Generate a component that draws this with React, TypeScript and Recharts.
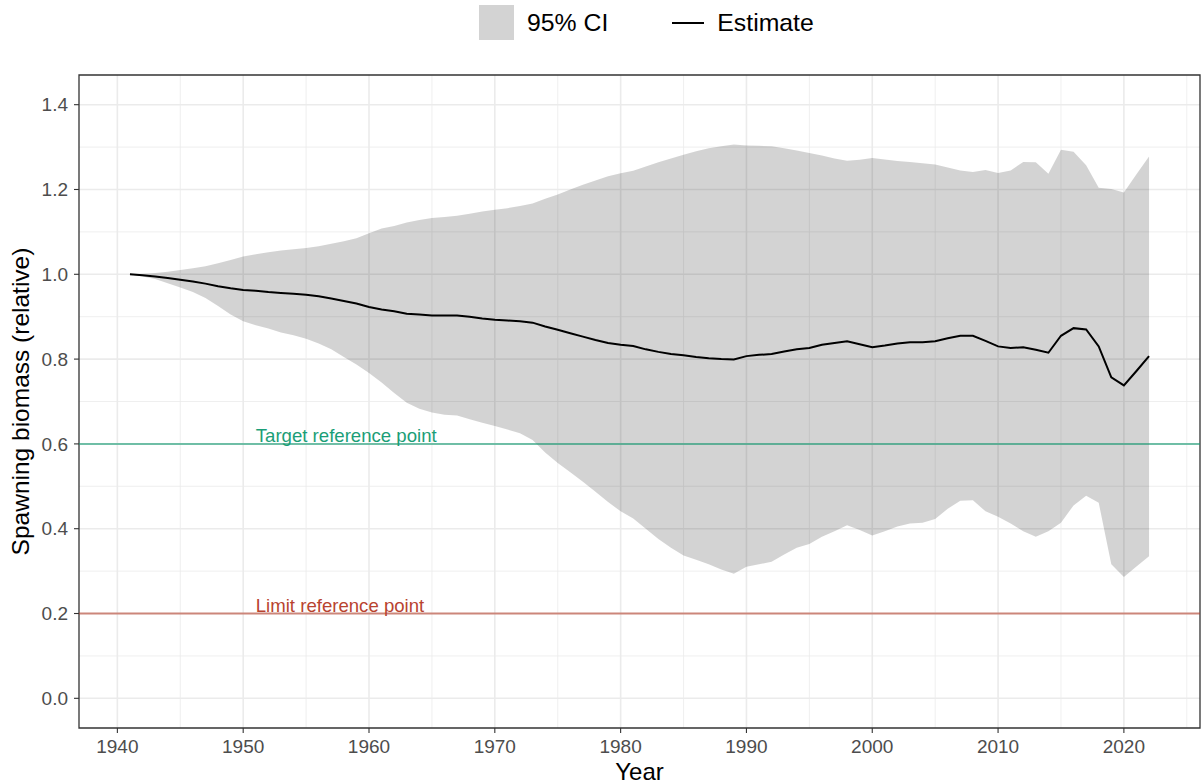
import {
  ComposedChart,
  Area,
  Line,
  XAxis,
  YAxis,
  CartesianGrid,
  ReferenceLine,
  ReferenceArea,
  ReferenceDot,
} from 'recharts'

const years = [
  1941, 1942, 1943, 1944, 1945, 1946, 1947, 1948, 1949, 1950,
  1951, 1952, 1953, 1954, 1955, 1956, 1957, 1958, 1959, 1960,
  1961, 1962, 1963, 1964, 1965, 1966, 1967, 1968, 1969, 1970,
  1971, 1972, 1973, 1974, 1975, 1976, 1977, 1978, 1979, 1980,
  1981, 1982, 1983, 1984, 1985, 1986, 1987, 1988, 1989, 1990,
  1991, 1992, 1993, 1994, 1995, 1996, 1997, 1998, 1999, 2000,
  2001, 2002, 2003, 2004, 2005, 2006, 2007, 2008, 2009, 2010,
  2011, 2012, 2013, 2014, 2015, 2016, 2017, 2018, 2019, 2020,
  2021, 2022,
]

const estimate = [
  1.0, 0.998, 0.995, 0.991, 0.987, 0.983, 0.978, 0.972, 0.967, 0.963,
  0.961, 0.958, 0.956, 0.954, 0.952, 0.948, 0.943, 0.937, 0.931, 0.923,
  0.917, 0.913, 0.907, 0.905, 0.903, 0.903, 0.903, 0.9, 0.896, 0.893,
  0.891, 0.889, 0.886, 0.877, 0.869, 0.861, 0.853, 0.845, 0.838, 0.834,
  0.831, 0.823, 0.817, 0.812, 0.809, 0.805, 0.802, 0.8, 0.799, 0.807,
  0.81, 0.812, 0.818, 0.823, 0.826, 0.834, 0.838, 0.842, 0.835, 0.828,
  0.832, 0.837, 0.84, 0.84, 0.842, 0.849, 0.855, 0.855, 0.843, 0.83,
  0.826, 0.828, 0.822, 0.815, 0.855, 0.873, 0.87, 0.83, 0.757, 0.738,
  0.772, 0.807,
]

const lower = [
  1.0, 0.995, 0.989, 0.979, 0.969, 0.958, 0.944, 0.925, 0.905, 0.889,
  0.88, 0.872, 0.863, 0.856, 0.848, 0.837, 0.823, 0.805, 0.787, 0.767,
  0.745, 0.72, 0.697, 0.683, 0.674, 0.669, 0.667, 0.658, 0.65, 0.642,
  0.634, 0.625, 0.609, 0.58, 0.555, 0.533, 0.511, 0.487, 0.463, 0.441,
  0.424, 0.4, 0.376, 0.355, 0.337, 0.327, 0.316, 0.304, 0.294, 0.31,
  0.316, 0.322, 0.339, 0.355, 0.364, 0.381, 0.394, 0.408, 0.397, 0.384,
  0.394, 0.405, 0.412, 0.414, 0.423, 0.447, 0.466, 0.467, 0.441, 0.428,
  0.412, 0.394, 0.381, 0.394, 0.414, 0.455, 0.478, 0.461, 0.316, 0.286,
  0.311, 0.335,
]

const upper = [
  1.0, 1.001, 1.003, 1.006, 1.01, 1.014, 1.019, 1.026, 1.034, 1.042,
  1.047, 1.052, 1.056, 1.059, 1.062, 1.066, 1.072, 1.078, 1.085, 1.097,
  1.108, 1.114, 1.122, 1.128, 1.133, 1.135, 1.138, 1.143, 1.148, 1.152,
  1.156, 1.161, 1.167, 1.178, 1.188, 1.2, 1.211, 1.221, 1.231, 1.238,
  1.244, 1.254, 1.264, 1.273, 1.282, 1.29, 1.297, 1.302, 1.306, 1.304,
  1.303, 1.302, 1.297, 1.292, 1.286, 1.28, 1.273, 1.268, 1.27, 1.274,
  1.271, 1.267, 1.265, 1.262, 1.259, 1.252, 1.245, 1.241, 1.246, 1.239,
  1.245, 1.265, 1.264, 1.237, 1.294, 1.289, 1.257, 1.204, 1.201, 1.193,
  1.236, 1.278,
]

const xTicks = [1940, 1950, 1960, 1970, 1980, 1990, 2000, 2010, 2020]
const xMinor = [1945, 1955, 1965, 1975, 1985, 1995, 2005, 2015, 2025]
const yTicks = [0, 0.2, 0.4, 0.6, 0.8, 1.0, 1.2, 1.4]
const yMinor = [0.1, 0.3, 0.5, 0.7, 0.9, 1.1, 1.3]

const xDomain = [1936.95, 2026.05]
const yDomain = [-0.07, 1.47]

const refPoints = [
  { name: 'Target reference point', value: 0.6, color: '#1b9e77' },
  { name: 'Limit reference point', value: 0.2, color: '#b8432f' },
]
const refLabelYear = 1951

const FONT = '"Liberation Sans", Arial, Helvetica, sans-serif'

const data = years.map((year, i) => ({
  year,
  est: estimate[i],
  ci: [lower[i], upper[i]],
}))

const refLabel = (text: string, color: string) => (props: any) => {
  const vb = props.viewBox || {}
  const x = vb.x + (vb.width || 0) / 2
  const y = vb.y + (vb.height || 0) / 2
  return (
    <text x={x} y={y - 2} fill={color} fontSize={18.6} fontFamily={FONT} textAnchor="start">
      {text}
    </text>
  )
}

const yTitle = (props: any) => {
  const vb = props.viewBox || {}
  const x = (vb.x || 0) + 29
  const y = vb.y + vb.height / 2
  return (
    <text
      x={x}
      y={y}
      transform={`rotate(-90, ${x}, ${y})`}
      textAnchor="middle"
      fontSize={24.5}
      fontFamily={FONT}
      fill="#000"
    >
      Spawning biomass (relative)
    </text>
  )
}

const xTitle = (props: any) => {
  const vb = props.viewBox || {}
  return (
    <text
      x={vb.x + vb.width / 2}
      y={vb.y + vb.height - 4}
      textAnchor="middle"
      fontSize={24}
      fontFamily={FONT}
      fill="#000"
    >
      Year
    </text>
  )
}

function TopLegend() {
  return (
    <div
      style={{
        position: 'absolute',
        left: 479,
        top: 5,
        height: 35,
        display: 'flex',
        alignItems: 'center',
        fontFamily: FONT,
        fontSize: 24.8,
        color: '#000',
      }}
    >
      <div style={{ width: 35, height: 35, background: '#d3d3d3' }} />
      <span style={{ marginLeft: 13 }}>95% CI</span>
      <div style={{ width: 32, height: 2, background: '#000', marginLeft: 64 }} />
      <span style={{ marginLeft: 13 }}>Estimate</span>
    </div>
  )
}

export default function App() {
  return (
    <div style={{ position: 'absolute', left: 0, top: 0, width: 1201, height: 784, background: '#fff' }}>
      <TopLegend />
      <ComposedChart
        width={1201}
        height={784}
        data={data}
        margin={{ top: 75, right: 1, bottom: 0, left: 0 }}
      >
        <CartesianGrid
          stroke="#ebebeb"
          strokeWidth={0.8}
          verticalValues={xMinor}
          horizontalValues={yMinor}
        />
        <CartesianGrid
          stroke="#ebebeb"
          strokeWidth={1.6}
          verticalValues={xTicks}
          horizontalValues={yTicks}
        />
        <XAxis
          type="number"
          dataKey="year"
          domain={xDomain}
          ticks={xTicks}
          allowDataOverflow
          height={56}
          axisLine={false}
          tickLine={{ stroke: '#333333', strokeWidth: 1.1 }}
          tickSize={5}
          tickMargin={7}
          tick={{ fill: '#4d4d4d', fontSize: 19, fontFamily: FONT }}
          label={xTitle}
        />
        <YAxis
          type="number"
          domain={yDomain}
          ticks={yTicks}
          allowDataOverflow
          width={79}
          axisLine={false}
          tickLine={{ stroke: '#333333', strokeWidth: 1.1 }}
          tickSize={5}
          tickMargin={6}
          tickFormatter={(v: number) => v.toFixed(1)}
          tick={{ fill: '#4d4d4d', fontSize: 19, fontFamily: FONT }}
          label={yTitle}
        />
        <Area
          type="linear"
          dataKey="ci"
          stroke="none"
          fill="#000"
          fillOpacity={0.172}
          isAnimationActive={false}
          activeDot={false}
        />
        {refPoints.map((r) => (
          <ReferenceLine
            key={r.name}
            y={r.value}
            stroke={r.color}
            strokeOpacity={0.6}
            strokeWidth={2}
          />
        ))}
        {refPoints.map((r) => (
          <ReferenceDot
            key={r.name + '-label'}
            x={refLabelYear}
            y={r.value}
            r={1}
            fill="none"
            stroke="none"
            label={refLabel(r.name, r.color)}
          />
        ))}
        <Line
          type="linear"
          dataKey="est"
          stroke="#000"
          strokeWidth={2}
          dot={false}
          activeDot={false}
          isAnimationActive={false}
        />
        <ReferenceArea
          x1={xDomain[0]}
          x2={xDomain[1]}
          y1={yDomain[0]}
          y2={yDomain[1]}
          fill="none"
          stroke="#333333"
          strokeWidth={1.3}
        />
      </ComposedChart>
    </div>
  )
}
